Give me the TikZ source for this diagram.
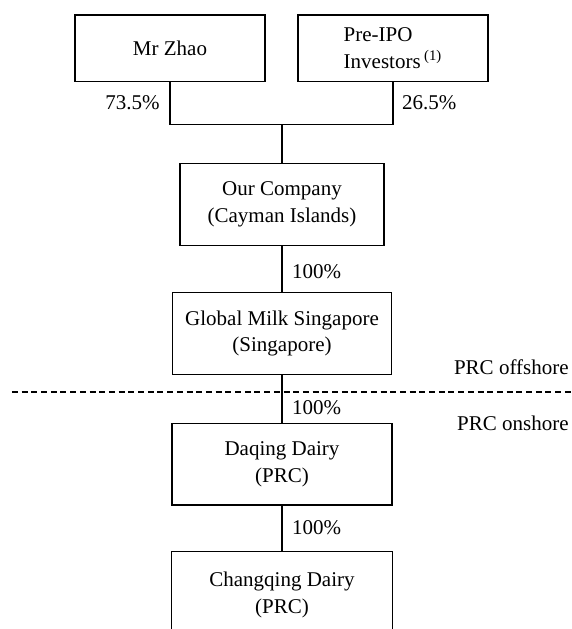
\documentclass[tikz,border=0pt]{standalone}
\usepackage{fontspec}
\setmainfont{Liberation Serif}
\usetikzlibrary{positioning}

\begin{document}
\begin{tikzpicture}[x=0.5pt, y=-0.5pt,
    font=\fontsize{10.5}{13.25}\selectfont,
    entity/.style={draw, line width=0.6pt, inner sep=0pt, align=center},
    share/.style={inner sep=0pt},
    link/.style={line width=0.6pt}]

  % Page frame (picture is cut off at the bottom).
  \clip (0,0) rectangle (572,629);

  % Shareholders.
  \node[entity, minimum width=95pt, minimum height=33.35pt] (zhao) at (170, 48.3)
    {Mr Zhao};
  \node[entity, minimum width=95pt, minimum height=33.35pt, align=left] (preipo) at (393, 48.3)
    {Pre-IPO\\Investors\,\textsuperscript{(1)}};

  % Group companies.
  \node[entity, minimum width=102pt, minimum height=41.2pt] (company) at (282, 204.5)
    {Our Company\\(Cayman Islands)};
  \node[entity, minimum width=109.5pt, minimum height=41pt] (global) at (282, 333.3)
    {Global Milk Singapore\\(Singapore)};
  \node[entity, minimum width=110pt, minimum height=40.85pt] (daqing) at (282, 464.2)
    {Daqing Dairy\\(PRC)};
  \node[entity, minimum width=110.5pt, minimum height=43.3pt] (changqing) at (282, 595)
    {Changqing Dairy\\(PRC)};

  % Ownership lines.
  \coordinate (join) at (282, 124.3);
  \draw[link] (zhao.south) |- (join) -| (preipo.south);
  \draw[link] (join) -- (company.north);
  \draw[link] (company) -- (global);
  \draw[link] (global) -- (daqing);
  \draw[link] (daqing) -- (changqing);

  % Percentages.
  \node[share, anchor=east] (pzhao) at (160, 103) {73.5\%};
  \node[share, anchor=west] (ppre) at (401.7, 103) {26.5\%};
  \node[share, anchor=west] (pglobal) at (291.7, 271.7) {100\%};
  \node[share, anchor=west] (pdaqing) at (291.7, 408) {100\%};
  \node[share, anchor=west] (pchang) at (291.7, 528) {100\%};

  % Offshore / onshore boundary.
  \coordinate (cutL) at (12, 391.7);
  \coordinate (cutR) at (572, 391.7);
  \draw[line width=1pt, dash pattern=on 3pt off 1.85pt] (cutL) -- (cutR);
  \node[share, anchor=east] (offshore) at (569, 367) {PRC offshore};
  \node[share, anchor=east] (onshore) at (569, 423) {PRC onshore};

\end{tikzpicture}
\end{document}
